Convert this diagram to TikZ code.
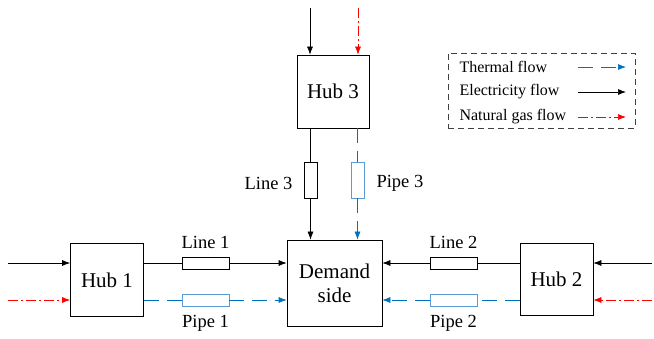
\documentclass[tikz,border=0pt]{standalone}
\usepackage{fontspec}
\setmainfont{Liberation Serif}
\usetikzlibrary{arrows.meta}
\definecolor{heatblue}{RGB}{0,112,192}
\definecolor{pipeblue}{RGB}{91,155,213}

\tikzset{
  hub/.style={draw, line width=0.7pt, inner sep=0pt, align=center, font=\fontsize{21}{24}\selectfont},
  hbox/.style={draw, line width=0.7pt, minimum width=47pt, minimum height=12pt, inner sep=0pt},
  vbox/.style={draw, line width=0.7pt, minimum width=13pt, minimum height=36pt, inner sep=0pt},
  tip/.style={-{Latex[length=8pt,width=6pt]}},
  elec/.style={line width=0.7pt, black},
  heat/.style={line width=0.7pt, heatblue, dash pattern=on 15pt off 8pt},
  gas/.style={line width=0.7pt, red, dash pattern=on 10pt off 3pt on 2pt off 3pt},
  lbl/.style={font=\fontsize{18.5}{21}\selectfont},
  leg/.style={font=\fontsize{16}{19}\selectfont, anchor=west}
}

\begin{document}
\begin{tikzpicture}[x=1pt, y=-1pt]
    \useasboundingbox (0,0) rectangle (654,339);

    % Hubs and demand side
    \node[hub, minimum width=73pt, minimum height=73pt] (hub1) at (107,280) {Hub 1};
    \node[hub, minimum width=73pt, minimum height=72pt] (hub2) at (556.5,279) {Hub 2};
    \node[hub, minimum width=72pt, minimum height=73pt] (hub3) at (333,91.5) {Hub 3};
    \node[hub, minimum width=95pt, minimum height=86pt] (dem) at (334.5,283) {Demand\\side};

    % Lines and pipes
    \node[hbox] (line1) at (205.5,263) {};
    \node[hbox, draw=pipeblue] (pipe1) at (205.5,300) {};
    \node[hbox] (line2) at (453.5,263) {};
    \node[hbox, draw=pipeblue] (pipe2) at (453.5,300) {};
    \node[vbox] (line3) at (310.5,180) {};
    \node[vbox, draw=pipeblue] (pipe3) at (357.5,180) {};

    \node[lbl] (lab1) at (205.5,242) {Line 1};
    \node[lbl] (lab2) at (205.5,323) {Pipe 1};
    \node[lbl] (lab3) at (453.5,242) {Line 2};
    \node[lbl] (lab4) at (453.5,323) {Pipe 2};
    \node[lbl, anchor=east] (lab5) at (296,183) {Line 3};
    \node[lbl, anchor=west] (lab6) at (373,183) {Pipe 3};

    % Free ends of the inputs
    \coordinate (in1e) at (8,263);
    \coordinate (in1g) at (8,300);
    \coordinate (in2e) at (652,263);
    \coordinate (in2g) at (652,300);
    \coordinate (in3e) at (310,8);
    \coordinate (in3g) at (358,8);

    % Inputs
    \draw[elec, tip] (in1e) -- (hub1.west |- in1e);
    \draw[gas, tip] (in1g) -- (hub1.west |- in1g);
    \draw[elec, tip] (in2e) -- (hub2.east |- in2e);
    \draw[gas, tip] (in2g) -- (hub2.east |- in2g);
    \draw[elec, tip] (in3e) -- (hub3.north -| in3e);
    \draw[gas, tip] (in3g) -- (hub3.north -| in3g);

    % Hub 1 to demand
    \draw[elec] (hub1.east |- line1) -- (line1.west);
    \draw[elec, tip] (line1.east) -- (dem.west |- line1);
    \draw[heat] (hub1.east |- pipe1) -- (pipe1.west);
    \draw[heat, tip] (pipe1.east) -- (dem.west |- pipe1);

    % Hub 2 to demand
    \draw[elec] (hub2.west |- line2) -- (line2.east);
    \draw[elec, tip] (line2.west) -- (dem.east |- line2);
    \draw[heat] (hub2.west |- pipe2) -- (pipe2.east);
    \draw[heat, tip] (pipe2.west) -- (dem.east |- pipe2);

    % Hub 3 to demand
    \draw[elec] (hub3.south -| line3) -- (line3.north);
    \draw[elec, tip] (line3.south) -- (dem.north -| line3);
    \draw[heat] (hub3.south -| pipe3) -- (pipe3.north);
    \draw[heat, tip] (pipe3.south) -- (dem.north -| pipe3);

    % Legend
    \node[draw=black!75, line width=0.8pt, dash pattern=on 6pt off 4pt, minimum width=187pt, minimum height=75pt, inner sep=0pt] (legend) at (541.5,90.5) {};
    \node[leg] (t1) at (456,67) {Thermal flow};
    \node[leg] (t2) at (456,92) {Electricity flow};
    \node[leg] (t3) at (456,117) {Natural gas flow};
    \coordinate (a1) at (578,67);
    \coordinate (b1) at (626,67);
    \coordinate (a2) at (578,92);
    \coordinate (b2) at (626,92);
    \coordinate (a3) at (578,117);
    \coordinate (b3) at (626,117);
    \draw[heat, tip] (a1) -- (b1);
    \draw[elec, tip] (a2) -- (b2);
    \draw[gas, tip] (a3) -- (b3);
\end{tikzpicture}
\end{document}
